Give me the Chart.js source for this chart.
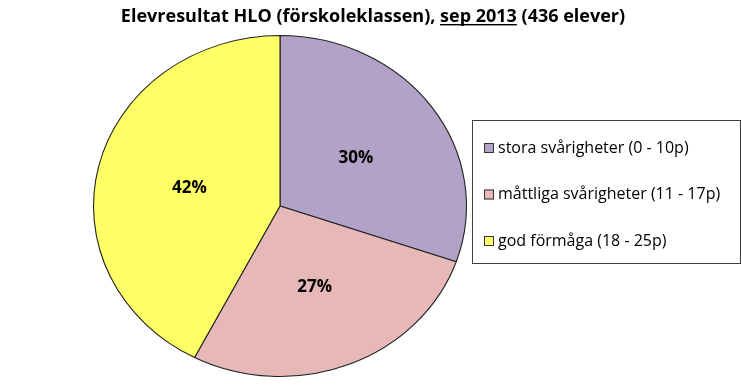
<!DOCTYPE html>
<html>
<head>
<meta charset="utf-8">
<script src="https://cdn.jsdelivr.net/npm/chart.js@4"></script>
<style>
  html, body { margin: 0; padding: 0; background: #fff; }
  #wrap { width: 742px; height: 387px; position: relative; }
</style>
</head>
<body>
<div id="wrap"><canvas id="pie"></canvas></div>
<script>
// data
const categories = ["stora svårigheter (0 - 10p)", "måttliga svårigheter (11 - 17p)", "god förmåga (18 - 25p)"];
const percents = [30, 27, 42];
const colors = ["#B2A2C7", "#E6B9B8", "#FFFF66"];
const titleParts = ["Elevresultat HLO (förskoleklassen), ", "sep 2013", " (436 elever)"];

const FONT = "'Open Sans', Lato, sans-serif";
const SX = 187 / 171; // the original pie is a bit wider than tall

const stretch = {
  id: "stretch",
  beforeDatasetsDraw(chart) {
    const { ctx, chartArea: a } = chart;
    const cx = (a.left + a.right) / 2, cy = (a.top + a.bottom) / 2;
    ctx.save();
    ctx.translate(cx, cy);
    ctx.scale(SX, 1);
    ctx.translate(-cx, -cy);
  },
  afterDatasetsDraw(chart) {
    const { ctx, chartArea: a } = chart;
    ctx.restore();
    const cx = (a.left + a.right) / 2;
    // percent labels in the middle of each slice
    ctx.save();
    ctx.font = "bold 17px " + FONT;
    ctx.fillStyle = "#000";
    ctx.textAlign = "center";
    ctx.textBaseline = "middle";
    chart.getDatasetMeta(0).data.forEach((arc, i) => {
      const p = arc.tooltipPosition();
      ctx.fillText(percents[i] + "%", cx + (p.x - cx) * SX, p.y + 2);
    });
    ctx.restore();
  }
};

const titleAndLegend = {
  id: "titleAndLegend",
  afterDraw(chart) {
    const ctx = chart.ctx;
    ctx.save();
    // title, with "sep 2013" underlined
    ctx.font = "bold 18px " + FONT;
    ctx.fillStyle = "#000";
    ctx.textBaseline = "alphabetic";
    const widths = titleParts.map(t => ctx.measureText(t).width);
    let x = 373 - widths.reduce((s, w) => s + w, 0) / 2;
    titleParts.forEach((t, i) => {
      ctx.fillText(t, x, 22);
      if (i === 1) {
        ctx.fillRect(x, 24, widths[i], 1.4);
      }
      x += widths[i];
    });

    // legend box
    const lx = 472, ly = 120, lw = 268, lh = 143;
    ctx.strokeStyle = "#404040";
    ctx.lineWidth = 1;
    ctx.strokeRect(lx + 0.5, ly + 0.5, lw, lh);
    ctx.font = "16px " + FONT;
    ctx.textBaseline = "middle";
    categories.forEach((c, i) => {
      const y = 148 + i * 46.5;
      ctx.fillStyle = colors[i];
      ctx.fillRect(484, y - 5, 10, 10);
      ctx.strokeStyle = "#333";
      ctx.strokeRect(484.5, y - 4.5, 9, 9);
      ctx.fillStyle = "#000";
      ctx.fillText(c, 498, y);
    });
    ctx.restore();
  }
};

new Chart(document.getElementById("pie"), {
  type: "pie",
  data: {
    labels: categories,
    datasets: [{
      data: percents,
      backgroundColor: colors,
      borderColor: "#222",
      borderWidth: 1,
    }],
  },
  options: {
    responsive: true,
    maintainAspectRatio: false,
    animation: false,
    events: [],
    layout: { padding: { top: 35, bottom: 10, left: 90, right: 272 } },
    plugins: {
      legend: { display: false },
      title: { display: false },
      tooltip: { enabled: false },
    },
  },
  plugins: [stretch, titleAndLegend],
});
</script>
</body>
</html>
